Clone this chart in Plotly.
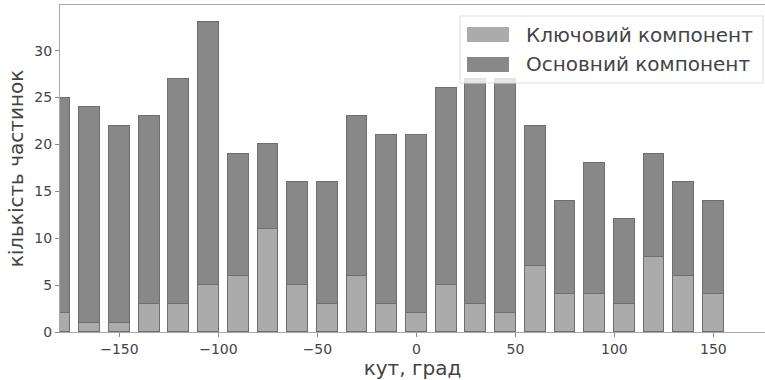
import plotly.graph_objects as go

angles = [-180, -165, -150, -135, -120, -105, -90, -75, -60, -45, -30, -15,
          0, 15, 30, 45, 60, 75, 90, 105, 120, 135, 150]
key_component = [2, 1, 1, 3, 3, 5, 6, 11, 5, 3, 6, 3, 2, 5, 3, 2, 7, 4, 4, 3, 8, 6, 4]
main_component = [23, 23, 21, 20, 24, 28, 13, 9, 11, 13, 17, 18, 19, 21, 24, 25, 15, 10, 14, 9, 11, 10, 10]
x_ticks = [-150, -100, -50, 0, 50, 100, 150]
y_ticks = [0, 5, 10, 15, 20, 25, 30]
series_names = ["Ключовий компонент", "Основний компонент"]

LIGHT = "#ababab"
DARK = "#888888"
EDGE = "#6e6e6e"
TEXT = "#444444"
FONT = "DejaVu Sans"

W, H = 765, 380
ML, MR, MT, MB = 60, 0, 5, 48
pw, ph = W - ML - MR, H - MT - MB

fig = go.Figure()
fig.add_trace(go.Bar(x=angles, y=key_component, name=series_names[0], width=10.5,
                     marker=dict(color=LIGHT, line=dict(color=EDGE, width=1)),
                     showlegend=False))
fig.add_trace(go.Bar(x=angles, y=main_component, name=series_names[1], width=10.5,
                     marker=dict(color=DARK, line=dict(color=EDGE, width=1)),
                     showlegend=False))

def px_x(p):
    return (p - ML) / pw

def px_y(p):
    return (H - MB - p) / ph

shapes = [
    dict(type="rect", xref="paper", yref="paper",
         x0=px_x(460), x1=px_x(763), y0=px_y(83), y1=px_y(16),
         fillcolor="rgba(255,255,255,0.8)", line=dict(color="#dddddd", width=1), layer="above"),
    dict(type="rect", xref="paper", yref="paper",
         x0=px_x(467), x1=px_x(509), y0=px_y(42), y1=px_y(27),
         fillcolor=LIGHT, line=dict(color=LIGHT, width=0), layer="above"),
    dict(type="rect", xref="paper", yref="paper",
         x0=px_x(467), x1=px_x(509), y0=px_y(72), y1=px_y(57),
         fillcolor=DARK, line=dict(color=DARK, width=0), layer="above"),
]
annotations = [
    dict(text=series_names[0], xref="paper", yref="paper", x=px_x(524), y=px_y(34.5),
         xanchor="left", yanchor="middle", showarrow=False,
         font=dict(family=FONT, size=20, color=TEXT)),
    dict(text=series_names[1], xref="paper", yref="paper", x=px_x(524), y=px_y(64.5),
         xanchor="left", yanchor="middle", showarrow=False,
         font=dict(family=FONT, size=20, color=TEXT)),
]

fig.update_layout(
    width=W, height=H,
    margin=dict(l=ML, r=MR, t=MT, b=MB, autoexpand=False),
    barmode="stack",
    bargap=0,
    paper_bgcolor="white", plot_bgcolor="white",
    font=dict(family=FONT, color=TEXT),
    shapes=shapes, annotations=annotations,
    showlegend=False,
)
fig.update_xaxes(
    range=[-180, -180 + pw / 1.98],
    tickvals=x_ticks, ticktext=[("−" + str(-v)) if v < 0 else str(v) for v in x_ticks],
    ticks="outside", ticklen=4, tickcolor="#888888", tickfont=dict(size=14, color=TEXT),
    showline=True, linecolor="#a8a8a8", linewidth=1.2, mirror=True,
    showgrid=False, zeroline=False, automargin=False,
    title=dict(text="кут, град", font=dict(size=20, color=TEXT), standoff=3),
)
fig.update_yaxes(
    range=[0, ph / 9.38],
    tickvals=y_ticks,
    ticks="outside", ticklen=4, tickcolor="#888888", tickfont=dict(size=14, color=TEXT),
    showline=True, linecolor="#a8a8a8", linewidth=1.2,
    showgrid=False, zeroline=False, automargin=False,
    title=dict(text="кількість частинок", font=dict(size=20, color=TEXT), standoff=5),
)

fig.write_html("out.html", config={"displayModeBar": False},
               post_script="document.body.style.margin='0';")
